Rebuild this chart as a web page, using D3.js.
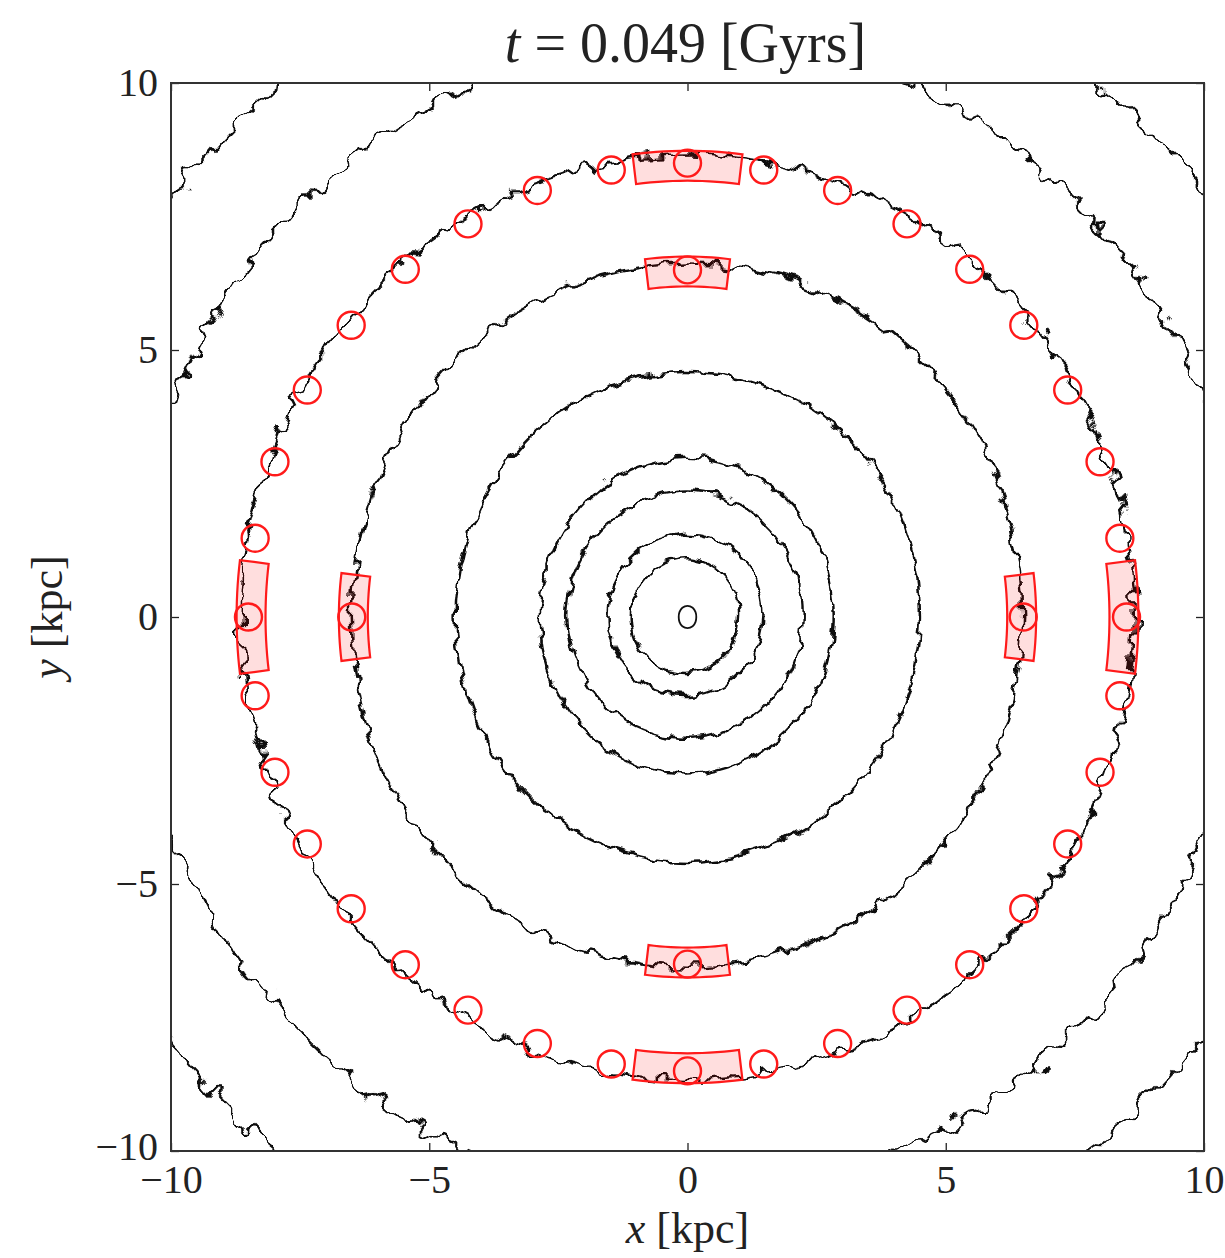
<!DOCTYPE html>
<html>
<head>
<meta charset="utf-8">
<script src="https://cdn.jsdelivr.net/npm/d3@7"></script>
<style>
  body { margin: 0; background: #fff; }
  text { font-family: "Liberation Serif", "Times New Roman", Times, serif; fill: #222; }
</style>
</head>
<body>
<div id="chart"></div>
<script>
// ---- data ----
const xTicks = [-10, -5, 0, 5, 10];
const yTicks = [-10, -5, 0, 5, 10];

// contour radii [kpc], read every 30 degrees (0 = +x, counter-clockwise)
const ringAngles = [0, 30, 60, 90, 120, 150, 180, 210, 240, 270, 300, 330];
const ringRadii = [
	[0.17, 0.18, 0.20, 0.21, 0.20, 0.18, 0.17, 0.18, 0.20, 0.21, 0.20, 0.18],
	[1.00, 1.03, 1.07, 1.10, 1.10, 1.09, 1.10, 1.08, 1.06, 1.05, 1.03, 1.01],
	[1.47, 1.50, 1.55, 1.56, 1.55, 1.54, 1.55, 1.53, 1.50, 1.48, 1.47, 1.46],
	[2.23, 2.28, 2.33, 2.35, 2.34, 2.33, 2.33, 2.30, 2.30, 2.28, 2.26, 2.24],
	[2.83, 2.88, 2.95, 2.98, 2.95, 2.88, 2.86, 2.88, 2.92, 2.95, 2.90, 2.85],
	[4.50, 4.55, 4.58, 4.59, 4.57, 4.52, 4.49, 4.52, 4.57, 4.59, 4.56, 4.52],
	[6.48, 6.55, 6.62, 6.62, 6.60, 6.55, 6.50, 6.55, 6.57, 6.57, 6.55, 6.50],
	[8.66, 8.65, 8.66, 8.66, 8.64, 8.62, 8.65, 8.64, 8.66, 8.67, 8.66, 8.64],
	[10.8, 10.8, 10.85, 10.85, 10.8, 10.75, 10.8, 10.8, 10.85, 10.85, 10.8, 10.8],
	[12.7, 12.8, 12.8, 12.8, 12.75, 12.7, 12.75, 12.8, 12.8, 12.8, 12.7, 12.7]
];
// how rough each contour looks (filter id per ring)
const ringRoughness = ["none", "fine", "fine", "fine", "fine", "fine", "mid", "rough", "wild", "wild"];

// red annular sectors: centre angle [deg] and centre radius [kpc]
const sectorAngles = [0, 90, 180, 270];
const sectorRadii = [6.47, 8.45];
const sectorHalfWidth = 0.28;   // kpc
const sectorHalfAngle = 7;      // deg

// red circles: outer ring every 10 degrees, inner ring on the axes
const outerCircleRadius = 8.5;
const outerCircleAngles = [0, 10, 20, 30, 40, 50, 60, 70, 80, 90, 100, 110, 120, 130, 140, 150, 160, 170,
	180, 190, 200, 210, 220, 230, 240, 250, 260, 270, 280, 290, 300, 310, 320, 330, 340, 350];
const innerCircleRadius = 6.5;
const innerCircleAngles = [0, 90, 180, 270];

const titleTime = "0.049";

// ---- drawing ----
const W = 1225, H = 1258;
const margin = {top: 83, right: 21, bottom: 107, left: 171};
const width = W - margin.left - margin.right;
const height = H - margin.top - margin.bottom;

const svg = d3.select("#chart").append("svg")
	.attr("width", W)
	.attr("height", H);

const defs = svg.append("defs");
defs.append("clipPath").attr("id", "plotclip")
	.append("rect").attr("width", width).attr("height", height);

// turbulence filters give the contour lines their noisy texture
const filterSpec = {fine: [0.07, 13, 4], mid: [0.06, 18, 7], rough: [0.055, 24, 11], wild: [0.05, 32, 17]};
Object.entries(filterSpec).forEach(([id, [freq, scale, seed]]) => {
	const f = defs.append("filter").attr("id", id)
		.attr("filterUnits", "userSpaceOnUse")
		.attr("x", -50).attr("y", -50).attr("width", width + 100).attr("height", height + 100);
	f.append("feTurbulence").attr("type", "fractalNoise")
		.attr("baseFrequency", freq).attr("numOctaves", 2).attr("seed", seed).attr("result", "noise");
	f.append("feDisplacementMap").attr("in", "SourceGraphic").attr("in2", "noise")
		.attr("scale", scale).attr("xChannelSelector", "R").attr("yChannelSelector", "G");
});

const g = svg.append("g")
	.attr("transform", "translate(" + margin.left + "," + margin.top + ")");

const x = d3.scaleLinear().domain([-10, 10]).range([0, width]);
const y = d3.scaleLinear().domain([-10, 10]).range([height, 0]);
const rad = a => a * Math.PI / 180;

const plot = g.append("g").attr("clip-path", "url(#plotclip)");

// contours
const ringLine = d3.line()
	.x(d => x(d.r * Math.cos(rad(d.a))))
	.y(d => y(d.r * Math.sin(rad(d.a))))
	.curve(d3.curveCatmullRomClosed);

plot.append("g").selectAll("path")
	.data(ringRadii)
	.enter()
	.append("path")
	.attr("d", rs => ringLine(rs.map((r, i) => ({r: r, a: ringAngles[i]}))))
	.attr("fill", "none")
	.attr("stroke", "#111")
	.attr("stroke-width", (d, i) => i === 0 ? 1.8 : 2.5)
	.attr("filter", (d, i) => ringRoughness[i] === "none" ? null : "url(#" + ringRoughness[i] + ")");

// sectors
const sectors = [];
sectorRadii.forEach(r => sectorAngles.forEach(a => sectors.push({r: r, a: a})));

function sectorPath(s) {
	const steps = d3.range(-sectorHalfAngle, sectorHalfAngle + 0.01, 1).map(da => s.a + da);
	const r0 = s.r - sectorHalfWidth, r1 = s.r + sectorHalfWidth;
	const pts = steps.map(a => [x(r1 * Math.cos(rad(a))), y(r1 * Math.sin(rad(a)))])
		.concat(steps.slice().reverse().map(a => [x(r0 * Math.cos(rad(a))), y(r0 * Math.sin(rad(a)))]));
	return "M" + pts.map(p => p.join(",")).join("L") + "Z";
}

plot.append("g").selectAll("path")
	.data(sectors)
	.enter()
	.append("path")
	.attr("d", sectorPath)
	.attr("fill", "rgba(255,0,0,0.13)")
	.attr("stroke", "#ff1a1a")
	.attr("stroke-width", 2.2);

// circles
const circles = outerCircleAngles.map(a => ({r: outerCircleRadius, a: a}))
	.concat(innerCircleAngles.map(a => ({r: innerCircleRadius, a: a})));

plot.append("g").selectAll("circle")
	.data(circles)
	.enter()
	.append("circle")
	.attr("cx", d => x(d.r * Math.cos(rad(d.a))))
	.attr("cy", d => y(d.r * Math.sin(rad(d.a))))
	.attr("r", 13.5)
	.attr("fill", "none")
	.attr("stroke", "#ff1a1a")
	.attr("stroke-width", 2.4);

// axes with inward ticks on all four sides
const fmt = d3.format("d");
const styleAxis = sel => {
	sel.select(".domain").remove();
	sel.selectAll(".tick line").attr("stroke", "#222").attr("stroke-width", 1.3);
	sel.selectAll(".tick text").attr("font-size", 40).attr("fill", "#333")
		.style("font-family", "'Liberation Serif', 'Times New Roman', serif");
};

g.append("g").attr("transform", "translate(0," + height + ")")
	.call(d3.axisBottom(x).tickValues(xTicks).tickSize(-8).tickPadding(14).tickFormat(fmt))
	.call(styleAxis);
g.append("g")
	.call(d3.axisTop(x).tickValues(xTicks).tickSize(-8).tickFormat(""))
	.call(styleAxis);
g.append("g")
	.call(d3.axisLeft(y).tickValues(yTicks).tickSize(-8).tickPadding(13).tickFormat(fmt))
	.call(styleAxis);
g.append("g").attr("transform", "translate(" + width + ",0)")
	.call(d3.axisRight(y).tickValues(yTicks).tickSize(-8).tickFormat(""))
	.call(styleAxis);

// nudge the corner labels apart as matplotlib does
g.selectAll(".tick text").filter(d => d === -10).each(function() {
	const t = d3.select(this);
	if (t.attr("x") !== null && +t.attr("x") < 0) t.attr("dy", "0.2em");
});

// frame
g.append("rect")
	.attr("width", width).attr("height", height)
	.attr("fill", "none").attr("stroke", "#333").attr("stroke-width", 2);

// title and labels
const title = svg.append("text")
	.attr("x", margin.left + width / 2 - 2).attr("y", 62)
	.attr("text-anchor", "middle").attr("font-size", 56);
title.append("tspan").attr("font-style", "italic").text("t");
title.append("tspan").text(" = " + titleTime + " [Gyrs]");

const xl = svg.append("text")
	.attr("x", margin.left + width / 2).attr("y", 1243)
	.attr("text-anchor", "middle").attr("font-size", 44);
xl.append("tspan").attr("font-style", "italic").text("x");
xl.append("tspan").text(" [kpc]");

const yl = svg.append("text")
	.attr("transform", "translate(62," + (margin.top + height / 2) + ") rotate(-90)")
	.attr("text-anchor", "middle").attr("font-size", 44);
yl.append("tspan").attr("font-style", "italic").text("y");
yl.append("tspan").text(" [kpc]");
</script>
</body>
</html>
